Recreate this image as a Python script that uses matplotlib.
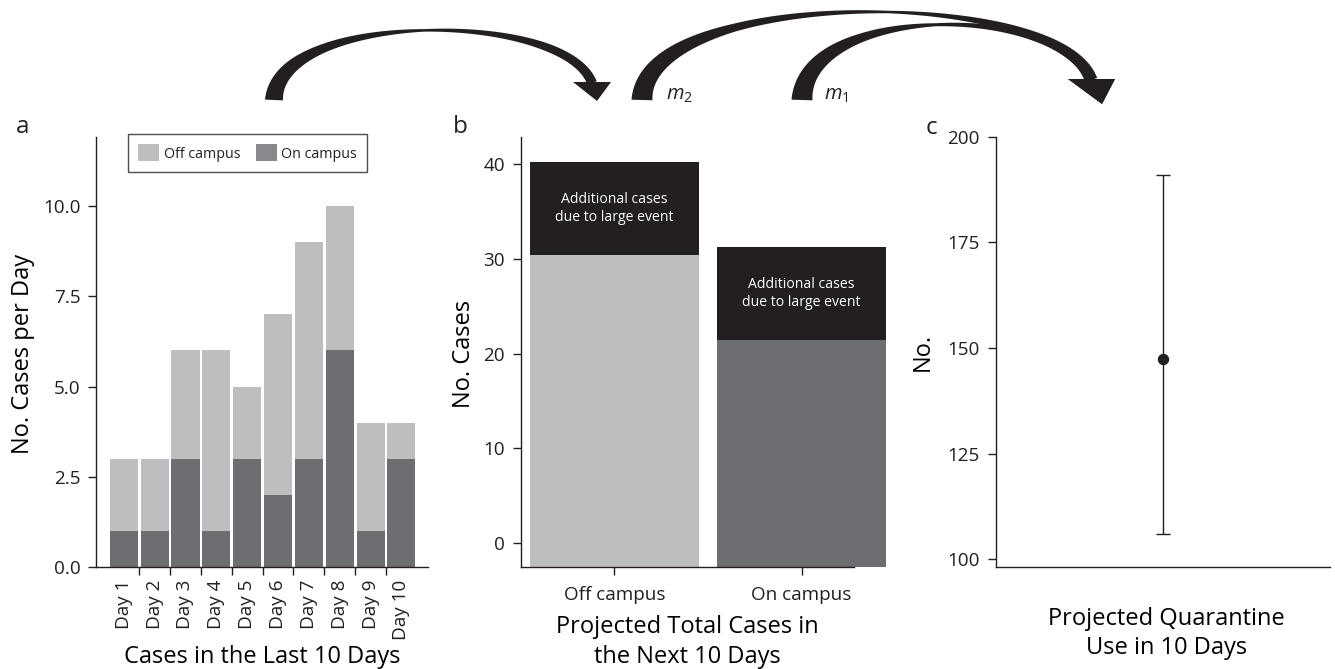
import numpy as np
import matplotlib
matplotlib.use("Agg")
import matplotlib.pyplot as plt
from matplotlib.patches import Patch, Polygon
from matplotlib.ticker import FormatStrFormatter

# --- data -------------------------------------------------------------
DAYS = ["Day 1", "Day 2", "Day 3", "Day 4", "Day 5",
        "Day 6", "Day 7", "Day 8", "Day 9", "Day 10"]
DAILY_ON = [1, 1, 3, 1, 3, 2, 3, 6, 1, 3]
DAILY_OFF = [2, 2, 3, 5, 2, 5, 6, 4, 3, 1]

GROUPS = ["Off campus", "On campus"]
PROJ_BASE = [30.4, 21.4]
PROJ_EVENT = [9.9, 9.9]

QUAR_MEAN = 147.4
QUAR_LOW = 106.0
QUAR_HIGH = 191.0

# --- style ------------------------------------------------------------
INK = "#231f20"
LIGHT = "#bcbec0"
DARK = "#6d6e71"
DARK_KEY = "#88898c"

plt.rcParams["font.family"] = ["Open Sans", "DejaVu Sans"]
plt.rcParams["mathtext.fontset"] = "custom"
plt.rcParams["mathtext.it"] = "Open Sans:italic"
plt.rcParams["mathtext.rm"] = "Open Sans"
plt.rcParams["text.color"] = INK
plt.rcParams["axes.edgecolor"] = INK
plt.rcParams["axes.linewidth"] = 1.0
plt.rcParams["xtick.color"] = INK
plt.rcParams["ytick.color"] = INK

W, H = 1335, 669
LABEL_FS = 17
TICK_FS = 13.6

fig = plt.figure(figsize=(W / 100, H / 100), dpi=100)


def px_box(left, top, right, bottom):
    """Axes rectangle given in pixel edges (origin top-left)."""
    return [left / W, (H - bottom) / H, (right - left) / W, (bottom - top) / H]


def style_axes(ax):
    ax.spines["top"].set_visible(False)
    ax.spines["right"].set_visible(False)
    ax.tick_params(which="major", length=5.75, width=1, direction="out",
                   labelsize=TICK_FS, pad=5.5)


# --- a: cases in the last 10 days -------------------------------------
ax_a = fig.add_axes(px_box(96, 137, 428.3, 567.3))
style_axes(ax_a)
xa = np.arange(len(DAYS))
ax_a.bar(xa, DAILY_ON, width=0.91, color=DARK)
ax_a.bar(xa, DAILY_OFF, bottom=DAILY_ON, width=0.91, color=LIGHT)
ax_a.set_xlim(-0.9, 9.87)
ax_a.set_ylim(0, 11.9)
ax_a.set_yticks([0, 2.5, 5, 7.5, 10])
ax_a.yaxis.set_major_formatter(FormatStrFormatter("%.1f"))
# tick marks sit between the bars, names sit under them
ax_a.set_xticks(xa[:-1] + 0.5)
ax_a.set_xticklabels([])
ax_a.set_xticks(xa, minor=True)
ax_a.set_xticklabels(DAYS, minor=True, rotation=90)
ax_a.tick_params(axis="x", which="minor", length=0, pad=9, labelsize=TICK_FS)
ax_a.set_ylabel("No. Cases per Day", fontsize=LABEL_FS)
ax_a.yaxis.set_label_coords(-0.183, 0.495)
ax_a.set_xlabel("Cases in the Last 10 Days", fontsize=LABEL_FS)
ax_a.xaxis.set_label_coords(0.5, -0.180)

handles = [Patch(facecolor=LIGHT, label="Off campus"),
           Patch(facecolor=DARK_KEY, label="On campus")]
leg = ax_a.legend(handles=handles, ncol=2, loc="upper left",
                  bbox_to_anchor=(0.0963, 1.007), borderaxespad=0,
                  fontsize=10.3, frameon=True, fancybox=False,
                  handlelength=1.47, handleheight=1.47, handletextpad=0.3,
                  columnspacing=1.1, borderpad=0.72)
leg.get_frame().set_edgecolor(INK)
leg.get_frame().set_linewidth(1.0)

# --- b: projected total cases -----------------------------------------
B_FLOOR = -2.57
ax_b = fig.add_axes(px_box(520.7, 137, 854, 567.3))
style_axes(ax_b)
xb = np.arange(len(GROUPS))
base = np.array(PROJ_BASE)
event = np.array(PROJ_EVENT)
ax_b.bar(xb, base - B_FLOOR, bottom=B_FLOOR, width=0.9,
         color=[LIGHT, DARK], clip_on=False)
ax_b.bar(xb, event, bottom=base, width=0.9, color=INK, clip_on=False)
for xi, b0, ev in zip(xb, base, event):
    ax_b.text(xi, b0 + ev / 2, "Additional cases\ndue to large event",
              color="white", ha="center", va="center", fontsize=10.1,
              linespacing=1.3)
ax_b.set_xlim(-0.5, 1.28)
ax_b.set_ylim(B_FLOOR, 42.9)
ax_b.set_yticks([0, 10, 20, 30, 40])
ax_b.set_xticks(xb)
ax_b.set_xticklabels(GROUPS)
ax_b.tick_params(axis="x", pad=8)
ax_b.set_ylabel("No. Cases", fontsize=LABEL_FS)
ax_b.yaxis.set_label_coords(-0.135, 0.495)
ax_b.set_xlabel("Projected Total Cases in\nthe Next 10 Days",
                fontsize=LABEL_FS, linespacing=1.28)
ax_b.xaxis.set_label_coords(0.5, -0.112)

# --- c: projected quarantine use --------------------------------------
ax_c = fig.add_axes(px_box(995.7, 136.7, 1330, 567.3))
style_axes(ax_c)
ax_c.errorbar([0], [QUAR_MEAN],
              yerr=[[QUAR_MEAN - QUAR_LOW], [QUAR_HIGH - QUAR_MEAN]],
              fmt="o", color=INK, ms=7.2, capsize=4.8, elinewidth=1,
              capthick=1)
ax_c.set_xlim(-1, 1)
ax_c.set_ylim(98.1, 200)
ax_c.set_yticks([100, 125, 150, 175, 200])
ax_c.set_xticks([])
ax_c.set_ylabel("No.", fontsize=LABEL_FS)
ax_c.yaxis.set_label_coords(-0.182, 0.5)
ax_c.set_xlabel("Projected Quarantine\nUse in 10 Days",
                fontsize=LABEL_FS, linespacing=1.25)
ax_c.xaxis.set_label_coords(0.51, -0.0925)

# panel letters
for letter, lx, ly in (("a", 23, 127), ("b", 460, 127), ("c", 931.7, 128)):
    fig.text(lx / W, 1 - ly / H, letter, fontsize=17.5,
             ha="center", va="center")

# --- curved arrows linking the panels ---------------------------------
ov = fig.add_axes([0, 0, 1, 1])
ov.set_xlim(0, W)
ov.set_ylim(H, 0)
ov.axis("off")


def swoosh(ax, ctrl, t_nodes, widths, head):
    """Tapered cubic-Bezier stroke plus a triangular arrow head."""
    p = np.array(ctrl, dtype=float)
    t = np.linspace(0, 1, 300)[:, None]
    pts = ((1 - t) ** 3 * p[0] + 3 * (1 - t) ** 2 * t * p[1]
           + 3 * (1 - t) * t ** 2 * p[2] + t ** 3 * p[3])
    d = (3 * (1 - t) ** 2 * (p[1] - p[0]) + 6 * (1 - t) * t * (p[2] - p[1])
         + 3 * t ** 2 * (p[3] - p[2]))
    n = np.column_stack([-d[:, 1], d[:, 0]])
    n /= np.linalg.norm(n, axis=1)[:, None]
    w = np.interp(t[:, 0], t_nodes, widths)[:, None] / 2
    outline = np.vstack([pts + n * w, (pts - n * w)[::-1]])
    ax.add_patch(Polygon(outline, closed=True, facecolor=INK, edgecolor="none"))
    ax.add_patch(Polygon(head, closed=True, facecolor=INK, edgecolor="none"))


swoosh(ov, [(274, 100), (278, 10), (565, 10), (592, 83)],
       [0, 0.25, 0.5, 0.8, 1], [18, 9, 2.5, 8, 10],
       [(573, 82), (611, 82), (597, 101)])
swoosh(ov, [(642, 100), (645, -14), (1060, -14), (1091, 80)],
       [0, 0.3, 0.55, 0.8, 1], [21, 8, 2.5, 8, 13],
       [(1068, 79), (1115, 79), (1102, 104)])
swoosh(ov, [(802, 100), (805, 3), (1060, 3), (1091, 80)],
       [0, 0.3, 0.5, 0.8, 1], [21, 9, 3, 8, 11],
       [(1068, 79), (1115, 79), (1102, 104)])

ov.text(666, 100, r"$m_2$", fontsize=14.5, ha="left", va="baseline")
ov.text(824, 100, r"$m_1$", fontsize=14.5, ha="left", va="baseline")

fig.savefig("out.png", dpi=100)
